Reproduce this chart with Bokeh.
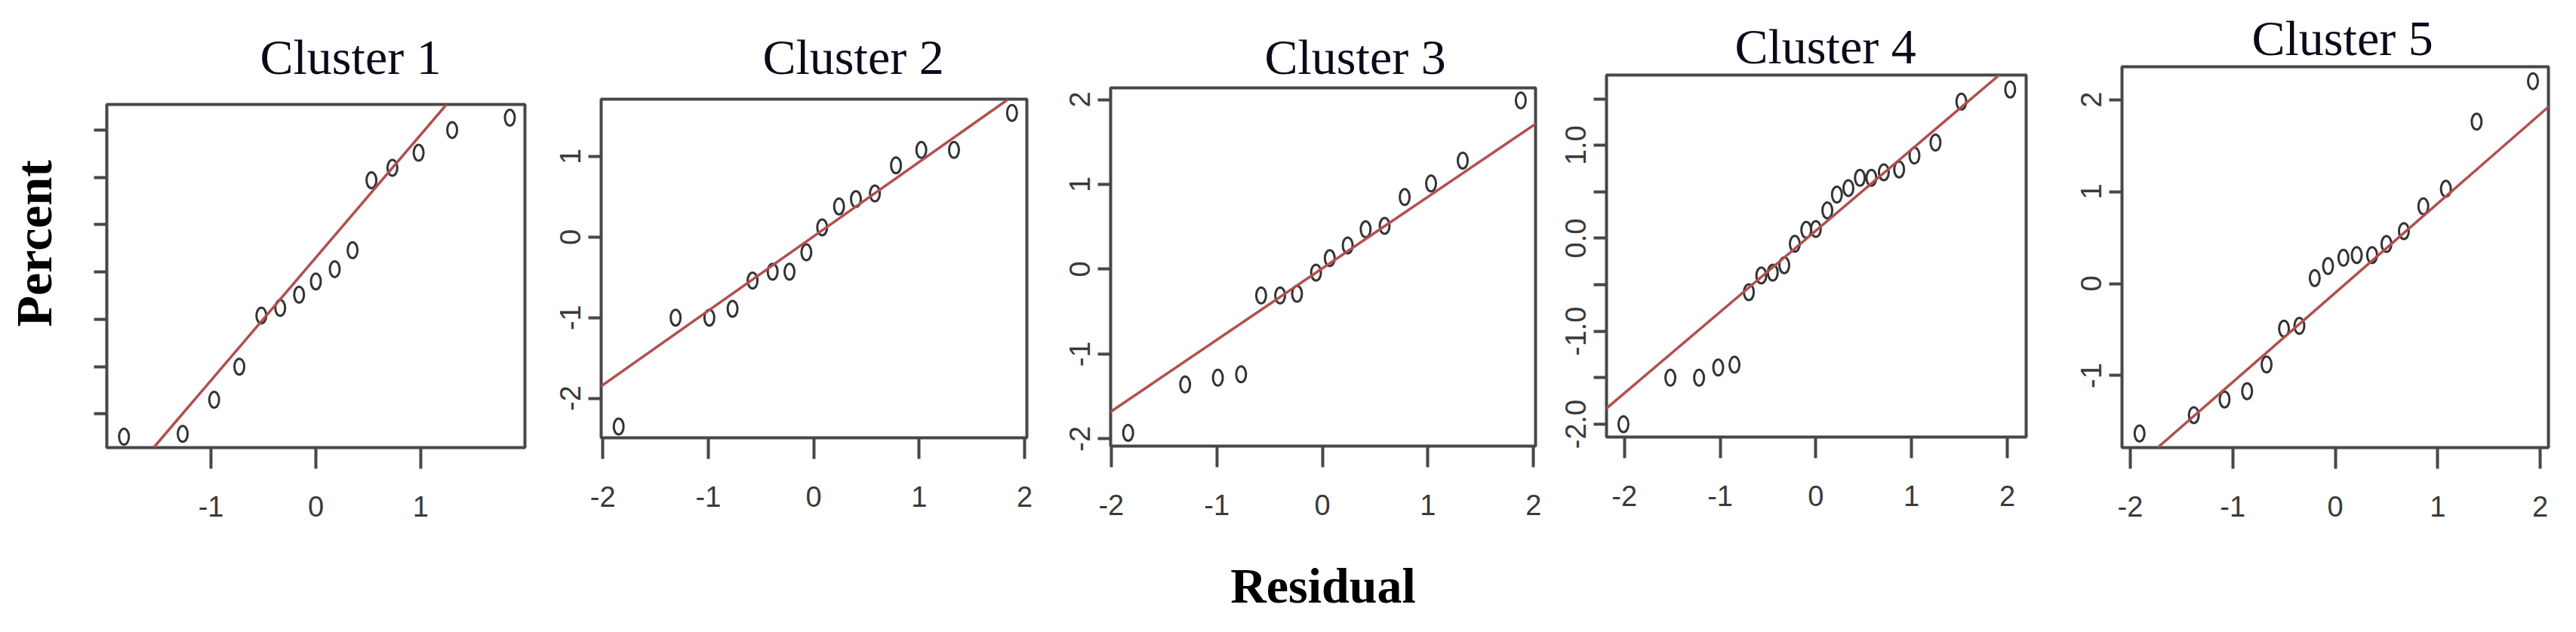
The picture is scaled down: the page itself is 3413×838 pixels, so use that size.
from bokeh.plotting import figure
from bokeh.layouts import row, column
from bokeh.models import Title, Slope, FixedTicker, Range1d
from bokeh.embed import file_html
from bokeh.resources import INLINE

# ---------------- data ----------------
panel_titles = ["Cluster 1", "Cluster 2", "Cluster 3", "Cluster 4", "Cluster 5"]
y_label = "Percent"
x_label = "Residual"

# Cluster 1 (theoretical quantile, sample value)
c1_x = [-1.83, -1.27, -0.97, -0.73, -0.52, -0.34, -0.16, 0.00, 0.18, 0.35, 0.53, 0.73, 0.98, 1.30, 1.85]
c1_y = [-1.74, -1.71, -1.35, -1.00, -0.46, -0.38, -0.24, -0.10, 0.03, 0.23, 0.97, 1.10, 1.26, 1.50, 1.63]
# Cluster 2
c2_x = [-1.85, -1.31, -0.99, -0.77, -0.58, -0.39, -0.23, -0.07, 0.08, 0.24, 0.40, 0.58, 0.78, 1.02, 1.33, 1.88]
c2_y = [-2.35, -1.00, -1.00, -0.89, -0.54, -0.43, -0.43, -0.19, 0.12, 0.38, 0.47, 0.54, 0.89, 1.08, 1.08, 1.54]
# Cluster 3
c3_x = [-1.84, -1.30, -0.99, -0.77, -0.58, -0.40, -0.24, -0.06, 0.07, 0.24, 0.41, 0.59, 0.78, 1.03, 1.33, 1.88]
c3_y = [-1.93, -1.36, -1.28, -1.24, -0.31, -0.31, -0.29, -0.04, 0.13, 0.28, 0.47, 0.51, 0.85, 1.01, 1.28, 1.99]
# Cluster 4
c4_x = [-2.01, -1.52, -1.22, -1.02, -0.85, -0.70, -0.57, -0.45, -0.33, -0.22, -0.10, 0.00,
        0.12, 0.22, 0.34, 0.46, 0.58, 0.71, 0.87, 1.03, 1.25, 1.52, 2.03]
c4_y = [-2.00, -1.50, -1.50, -1.39, -1.36, -0.58, -0.40, -0.37, -0.29, -0.06, 0.09, 0.10,
        0.30, 0.47, 0.54, 0.65, 0.65, 0.71, 0.74, 0.89, 1.03, 1.47, 1.60]
# Cluster 5
c5_x = [-1.91, -1.38, -1.08, -0.86, -0.67, -0.50, -0.35, -0.20, -0.07, 0.08, 0.21, 0.36,
        0.50, 0.67, 0.86, 1.08, 1.38, 1.93]
c5_y = [-1.63, -1.43, -1.26, -1.17, -0.88, -0.49, -0.46, 0.06, 0.19, 0.28, 0.31, 0.31,
        0.43, 0.57, 0.84, 1.03, 1.76, 2.20]

# reference (qq) lines: slope, intercept
line_slope = [1.298, 0.922, 0.843, 0.874, 0.971]
line_intercept = [0.153, 0.009, 0.010, 0.082, -0.100]

# tick values and tick labels
x_ticks = [[-1, 0, 1], [-2, -1, 0, 1, 2], [-2, -1, 0, 1, 2], [-2, -1, 0, 1, 2], [-2, -1, 0, 1, 2]]
x_tick_labels = [["-1", "0", "1"],
                 ["-2", "-1", "0", "1", "2"],
                 ["-2", "-1", "0", "1", "2"],
                 ["-2", "-1", "0", "1", "2"],
                 ["-2", "-1", "0", "1", "2"]]
y_ticks = [[-1.5, -1.0, -0.5, 0.0, 0.5, 1.0, 1.5],
           [-2, -1, 0, 1],
           [-2, -1, 0, 1, 2],
           [-2.0, -1.5, -1.0, -0.5, 0.0, 0.5, 1.0, 1.5],
           [-1, 0, 1, 2]]
y_tick_labels = [[" ", " ", " ", " ", " ", " ", " "],          # panel 1: labels not shown
                 ["-2", "-1", "0", "1"],
                 ["-2", "-1", "0", "1", "2"],
                 ["-2.0", "", "-1.0", "", "0.0", "", "1.0", ""],
                 ["-1", "0", "1", "2"]]

xs = [c1_x, c2_x, c3_x, c4_x, c5_x]
ys = [c1_y, c2_y, c3_y, c4_y, c5_y]

# ---------------- layout (axis extents and frame geometry) ----------------
x_ranges = [(-1.994, 1.994), (-2.016, 2.021), (-2.006, 2.020), (-2.187, 2.197), (-2.081, 2.081)]
y_ranges = [(-1.855, 1.770), (-2.49, 1.71), (-2.086, 2.138), (-2.138, 1.756), (-1.783, 2.357)]
H = 836
# (border_left, frame_width, border_right, frame_top, frame_bottom)
geom = [(141, 554, 25, 138, 593),
        (76, 564, 40, 131, 580),
        (71, 563, 26, 116, 591),
        (68, 556, 56, 99, 579),
        (71, 565, 33, 88, 593)]
title_offset = [203, 214, 204, 170, 172]
title_standoff = [53, 39, 9, 3, 3]

LINE_COL = "#b24f4f"
PT_COL = "#333333"
FRAME_COL = "#474747"
TICK_FONT = "Liberation Sans"
SERIF = "Liberation Serif"

figs = []
for i in range(5):
    bl, fw, br, ft, fb = geom[i]
    fh = fb - ft
    p = figure(frame_width=fw, frame_height=fh,
               min_border_left=bl, min_border_right=br,
               min_border_top=ft, min_border_bottom=H - fb,
               x_range=Range1d(*x_ranges[i]), y_range=Range1d(*y_ranges[i]),
               output_backend="svg", toolbar_location=None, title=None)
    p.grid.visible = False
    p.outline_line_color = FRAME_COL
    p.outline_line_width = 4
    p.outline_line_alpha = 1.0
    p.background_fill_color = "white"
    p.border_fill_color = "white"

    xa = p.xaxis[0]
    ya = p.yaxis[0]
    xa.ticker = FixedTicker(ticks=x_ticks[i])
    ya.ticker = FixedTicker(ticks=y_ticks[i])
    xa.major_label_overrides = {float(t): lab for t, lab in zip(x_ticks[i], x_tick_labels[i])}
    ya.major_label_overrides = {float(t): lab for t, lab in zip(y_ticks[i], y_tick_labels[i])}
    for ax, tick_len, standoff in ((xa, 28, 36), (ya, 17, 10)):
        ax.axis_line_color = None
        ax.major_tick_in = 0
        ax.major_tick_out = tick_len
        ax.major_tick_line_width = 4
        ax.major_tick_line_color = FRAME_COL
        ax.minor_tick_line_color = None
        ax.major_label_text_font = TICK_FONT
        ax.major_label_text_font_size = "38px"
        ax.major_label_text_color = "#3a3a3a"
        ax.major_label_standoff = standoff
    ya.major_label_orientation = "vertical"

    p.add_layout(Slope(gradient=line_slope[i], y_intercept=line_intercept[i],
                       line_color=LINE_COL, line_width=3.5))
    p.ellipse(x=xs[i], y=ys[i], width=13, height=21,
              width_units="screen", height_units="screen",
              fill_color=None, line_color=PT_COL, line_width=3)

    p.add_layout(Title(text=panel_titles[i], align="left", offset=title_offset[i],
                       standoff=title_standoff[i], vertical_align="bottom",
                       text_font=SERIF, text_font_size="66px", text_font_style="normal",
                       text_color="#0a0a1a"), "above")
    figs.append(p)

# panel 1: blank y tick labels (ticks only), "Percent" on the left
ya1 = figs[0].yaxis[0]
ya1.major_label_text_font_size = "20px"
ya1.major_label_standoff = 17
figs[0].add_layout(Title(text=y_label, align="left", offset=160, standoff=0,
                         vertical_align="bottom", text_font=SERIF, text_font_size="68px",
                         text_font_style="bold", text_color="#000000"), "left")

# panel 3: "Residual" below
xa3 = figs[2].xaxis[0]
xa3.axis_label = x_label
xa3.axis_label_standoff = 54
xa3.axis_label_text_font = SERIF
xa3.axis_label_text_font_size = "66px"
xa3.axis_label_text_font_style = "bold"
xa3.axis_label_text_color = "#000000"

layout = row(*[column(f) for f in figs])
open("out.html", "w").write(file_html(layout, INLINE))
